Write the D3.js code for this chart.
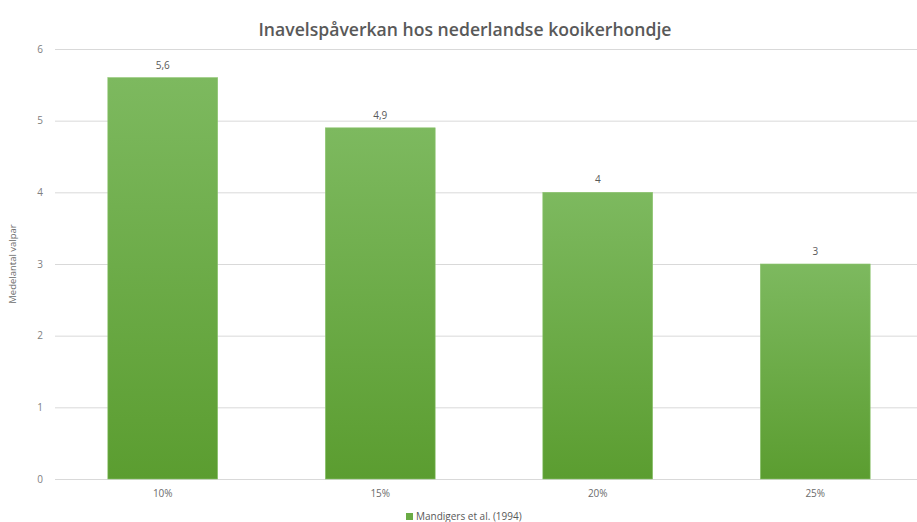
<html>
<head>
<meta charset="utf-8">
<script src="https://d3js.org/d3.v7.min.js"></script>
<style>
  body { margin: 0; background: #fff; }
  text { font-family: "Open Sans", "Liberation Sans", sans-serif; }
</style>
</head>
<body>
<div id="chart"></div>
<script>
var categories = ['10%', '15%', '20%', '25%']
var values = [5.6, 4.9, 4, 3]
var valueLabels = ['5,6', '4,9', '4', '3']
var yTicks = [0, 1, 2, 3, 4, 5, 6]
var seriesName = 'Mandigers et al. (1994)'

var width = 917, height = 522

var svg = d3.select('#chart').append('svg')
  .attr('width', width)
  .attr('height', height)

var x = d3.scaleBand()
  .domain(categories)
  .range([54, 924])
  .paddingInner(0.495)
  .paddingOuter(0.2475)

var y = d3.scaleLinear()
  .domain([0, 6])
  .range([479, 49])

var grad = svg.append('defs').append('linearGradient')
  .attr('id', 'barGrad')
  .attr('x1', 0).attr('y1', 0).attr('x2', 0).attr('y2', 1)
grad.append('stop').attr('offset', '0%').attr('stop-color', '#7db95f')
grad.append('stop').attr('offset', '100%').attr('stop-color', '#5b9d30')

// gridlines
svg.append('g')
  .selectAll('line')
  .data(yTicks)
  .enter().append('line')
    .attr('x1', 55).attr('x2', width)
    .attr('y1', function(d){ return y(d) + 0.5 })
    .attr('y2', function(d){ return y(d) + 0.5 })
    .attr('stroke', '#d9d9d9')
    .attr('stroke-width', 1)

// y tick labels
svg.append('g')
  .selectAll('text')
  .data(yTicks)
  .enter().append('text')
    .attr('x', 43)
    .attr('y', function(d){ return y(d) })
    .attr('dy', '0.35em')
    .attr('text-anchor', 'end')
    .attr('font-size', 10)
    .attr('fill', '#808080')
    .text(function(d){ return d })

// bars
svg.append('g')
  .selectAll('rect')
  .data(values)
  .enter().append('rect')
    .attr('x', function(d, i){ return x(categories[i]) })
    .attr('y', function(d){ return y(d) })
    .attr('width', x.bandwidth())
    .attr('height', function(d){ return y(0) - y(d) })
    .attr('fill', 'url(#barGrad)')
    .attr('stroke', '#8cc46e')
    .attr('stroke-width', 0.6)

// value labels
svg.append('g')
  .selectAll('text')
  .data(values)
  .enter().append('text')
    .attr('x', function(d, i){ return x(categories[i]) + x.bandwidth() / 2 })
    .attr('y', function(d){ return y(d) - 9 })
    .attr('text-anchor', 'middle')
    .attr('font-size', 10)
    .attr('fill', '#595959')
    .text(function(d, i){ return valueLabels[i] })

// x labels
svg.append('g')
  .selectAll('text')
  .data(categories)
  .enter().append('text')
    .attr('x', function(d){ return x(d) + x.bandwidth() / 2 })
    .attr('y', 497)
    .attr('text-anchor', 'middle')
    .attr('font-size', 10)
    .attr('fill', '#6b6b6b')
    .text(function(d){ return d })

// title
svg.append('text')
  .attr('x', 465)
  .attr('y', 36)
  .attr('text-anchor', 'middle')
  .attr('font-size', 17.6)
  .attr('font-weight', 600)
  .attr('fill', '#595959')
  .text('Inavelspåverkan hos nederlandse kooikerhondje')

// y axis title
svg.append('text')
  .attr('transform', 'translate(16,264) rotate(-90)')
  .attr('text-anchor', 'middle')
  .attr('font-size', 9.5)
  .attr('fill', '#6b6b6b')
  .text('Medelantal valpar')

// legend
var legend = svg.append('g').attr('transform', 'translate(406,513)')
legend.append('rect')
  .attr('x', 0).attr('y', 0)
  .attr('width', 7).attr('height', 7)
  .attr('fill', '#6aab45')
legend.append('text')
  .attr('x', 10).attr('y', 7)
  .attr('font-size', 10)
  .attr('fill', '#595959')
  .text(seriesName)
</script>
</body>
</html>
